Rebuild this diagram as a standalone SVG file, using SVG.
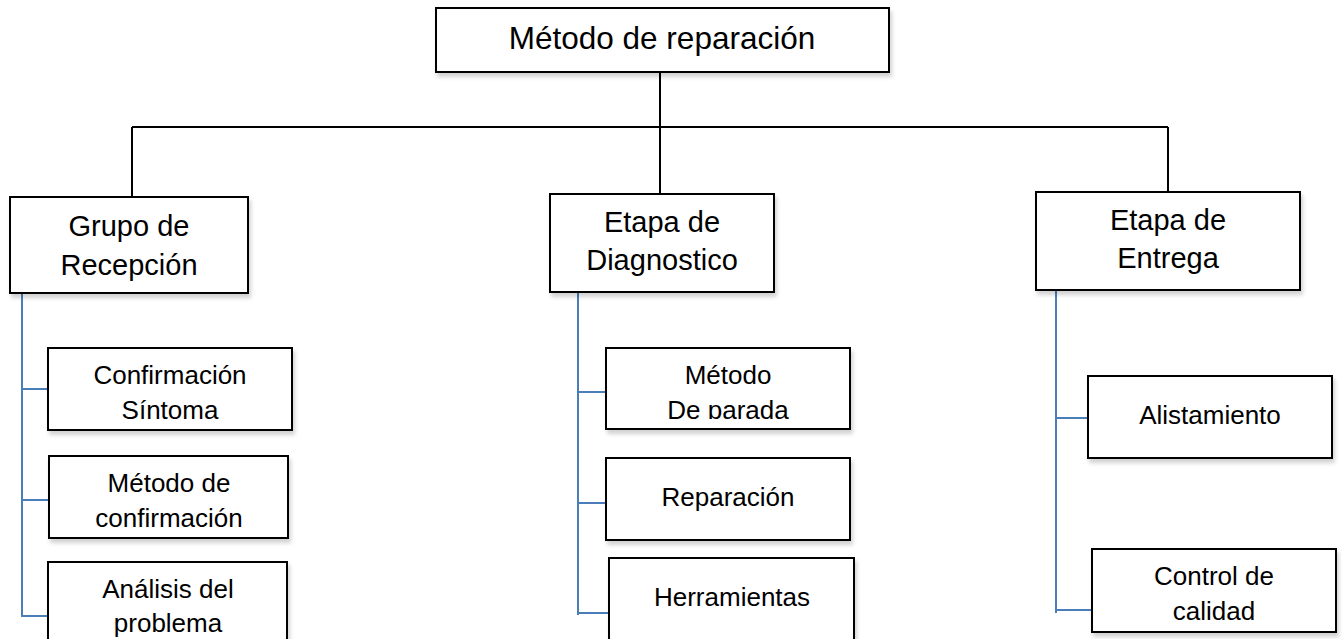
<svg xmlns="http://www.w3.org/2000/svg" width="1342" height="639" viewBox="0 0 1342 639">
<style>
.box{fill:#fff;stroke:#000;stroke-width:2;filter:url(#sh)}
.t{font-family:"Liberation Sans",Arial,sans-serif;fill:#000;text-anchor:middle}
.title{font-size:31.5px}
.p{font-size:29px}
.c{font-size:26px}
.k{stroke:#000;stroke-width:2;fill:none}
.b{stroke:#4a7ebb;stroke-width:2;fill:none}
</style>
<defs>
<filter id="sh" x="-10%" y="-10%" width="125%" height="130%">
<feGaussianBlur in="SourceAlpha" stdDeviation="2"/>
<feOffset dx="2" dy="4" result="o"/>
<feComponentTransfer><feFuncA type="linear" slope="0.18"/></feComponentTransfer>
<feMerge><feMergeNode/><feMergeNode in="SourceGraphic"/></feMerge>
</filter>
<clipPath id="clipDP"><rect x="606" y="348" width="244" height="71"/></clipPath>
</defs>
<rect width="1342" height="639" fill="#fff"/>
<g id="connectors">
<path class="k" d="M660 72V128M132 127H1168M132 127V197M660 128V194M1168 127V192"/>
<path class="b" d="M22 294V617M22 389H48M22 500H49M22 616H48"/>
<path class="b" d="M578 292V615M578 392H606M578 503H606M578 613H609"/>
<path class="b" d="M1056 290V613M1056 418H1088M1056 610H1092"/>
</g>
<g id="n-root"><rect class="box" x="436" y="8" width="453" height="64"/><text class="t title" x="662" y="49">Método de reparación</text></g>
<g id="n-recepcion"><rect class="box" x="10" y="197" width="238" height="96"/><text class="t p" x="129" y="236">Grupo de</text><text class="t p" x="129" y="275">Recepción</text></g>
<g id="n-diagnostico"><rect class="box" x="550" y="194" width="224" height="98"/><text class="t p" x="662" y="232">Etapa de</text><text class="t p" x="662" y="270">Diagnostico</text></g>
<g id="n-entrega"><rect class="box" x="1036" y="192" width="264" height="98"/><text class="t p" x="1168" y="230">Etapa de</text><text class="t p" x="1168" y="268">Entrega</text></g>
<g id="n-confirmacion-sintoma"><rect class="box" x="48" y="348" width="244" height="82"/><text class="t c" x="170" y="384">Confirmación</text><text class="t c" x="170" y="419">Síntoma</text></g>
<g id="n-metodo-confirmacion"><rect class="box" x="49" y="456" width="239" height="82"/><text class="t c" x="169" y="492">Método de</text><text class="t c" x="169" y="527">confirmación</text></g>
<g id="n-analisis"><rect class="box" x="48" y="562" width="239" height="90"/><text class="t c" x="168" y="598">Análisis del</text><text class="t c" x="168" y="632">problema</text></g>
<g id="n-metodo-parada"><rect class="box" x="606" y="348" width="244" height="81"/><g clip-path="url(#clipDP)"><text class="t c" x="728" y="384">Método</text><text class="t c" x="728" y="419">De parada</text></g></g>
<g id="n-reparacion"><rect class="box" x="606" y="458" width="244" height="82"/><text class="t c" x="728" y="506">Reparación</text></g>
<g id="n-herramientas"><rect class="box" x="609" y="558" width="245" height="95"/><text class="t c" x="732" y="606">Herramientas</text></g>
<g id="n-alistamiento"><rect class="box" x="1088" y="376" width="244" height="82"/><text class="t c" x="1210" y="424">Alistamiento</text></g>
<g id="n-control"><rect class="box" x="1092" y="549" width="244" height="83"/><text class="t c" x="1214" y="585">Control de</text><text class="t c" x="1214" y="620">calidad</text></g>
</svg>
